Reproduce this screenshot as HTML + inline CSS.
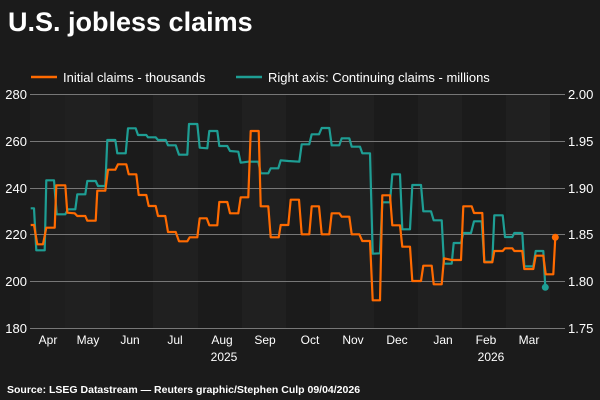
<!DOCTYPE html><html><head><style>
body{margin:0;background:#1b1b1b;}
svg{display:block;font-family:"Liberation Sans",sans-serif;}
</style></head><body>
<svg width="600" height="400" viewBox="0 0 600 400">
<rect width="600" height="400" fill="#1b1b1b"/>
<text x="8" y="31" fill="#fff" font-size="27" font-weight="bold">U.S. jobless claims</text>
<line x1="31" y1="77" x2="57" y2="77" stroke="#ff6a00" stroke-width="2.5"/>
<text x="63" y="82" fill="#fff" font-size="13">Initial claims - thousands</text>
<line x1="236" y1="77" x2="262" y2="77" stroke="#1e9e94" stroke-width="2.5"/>
<text x="268" y="82" fill="#fff" font-size="13">Right axis: Continuing claims - millions</text>
<g fill="#202020">
<rect x="30" y="94" width="35" height="234" fill="#1e1e1e"/>
<rect x="65" y="94" width="45" height="234"/>
<rect x="153" y="94" width="45" height="234"/>
<rect x="242" y="94" width="44" height="234"/>
<rect x="330" y="94" width="44" height="234"/>
<rect x="418" y="94" width="44" height="234"/>
<rect x="506" y="94" width="44" height="234"/>
</g>
<g stroke="#777" stroke-width="1">
<line x1="30" y1="94.5" x2="565" y2="94.5"/><line x1="30" y1="141.5" x2="565" y2="141.5"/>
<line x1="30" y1="188.5" x2="565" y2="188.5"/><line x1="30" y1="234.5" x2="565" y2="234.5"/>
<line x1="30" y1="281.5" x2="565" y2="281.5"/><line x1="30" y1="328.5" x2="565" y2="328.5"/>
</g>
<g fill="#fff" font-size="13" text-anchor="end">
<text x="27" y="99">280</text><text x="27" y="146">260</text><text x="27" y="193">240</text>
<text x="27" y="239">220</text><text x="27" y="286">200</text><text x="27" y="333">180</text>
</g>
<g fill="#fff" font-size="13">
<text x="568" y="99">2.00</text><text x="568" y="146">1.95</text><text x="568" y="193">1.90</text>
<text x="568" y="239">1.85</text><text x="568" y="286">1.80</text><text x="568" y="333">1.75</text>
</g>
<g fill="#fff" font-size="12" text-anchor="middle">
<text x="48" y="344">Apr</text><text x="88" y="344">May</text><text x="130" y="344">Jun</text>
<text x="175" y="344">Jul</text><text x="222" y="344">Aug</text><text x="265" y="344">Sep</text>
<text x="310" y="344">Oct</text><text x="353" y="344">Nov</text><text x="397" y="344">Dec</text>
<text x="443" y="344">Jan</text><text x="486" y="344">Feb</text><text x="529" y="344">Mar</text>
<text x="224" y="361">2025</text><text x="491" y="361">2026</text>
</g>
<polyline fill="none" stroke="#1e9e94" stroke-width="2.2" stroke-linejoin="round" points="30.7,208.3 34,208.3 36.3,250.3 44.7,250.3 46.3,180.3 54,180.3 56.7,214.3 65.3,214.3 68,209.3 75.3,209.3 77.3,194.3 85.3,194.3 87.3,181 95.7,181 98,186 105.3,186 107.3,140 115.3,140 117.3,153.3 125.7,153.3 128,128.3 135.7,128.3 138,135 146.3,135 148,137.3 155.7,137.3 158,140 165.7,140 168,145.3 175.7,145.3 179,154.7 187.3,154.7 189,124 197.3,124 199.7,147.7 207.3,148.3 209.3,131 217.3,131 219.3,146 227.3,146 230,151 238.3,151.7 240.7,162.7 248.3,161.7 258.3,161.7 260.7,173.3 268.3,173.3 270.7,168.3 278.3,168.3 280.7,160.3 288.3,161 299.3,161.7 301.7,144.3 309.3,144.3 311.7,134.3 319,134.3 321.7,128 329.3,128 331.7,145.3 339.3,145.3 341.7,138.3 349.3,138.3 351.7,146.7 360,146.7 362.3,153.3 370,153.3 372.7,253.7 380,253.3 382.3,202.3 390,202.3 392.3,174.3 400,174.3 402.3,229.3 410,229.3 412.3,185 421,185 423.3,211.3 431,211.3 433.7,220.3 441.7,220.3 444,263.7 451.7,263.7 453.7,243 461,243 463.3,233 471,233 474,221.3 481.7,221.3 484.3,261.7 492.3,261.7 494.3,215.3 502.7,215.3 505,237 512.3,237 514.3,233 522.3,233 524.3,266.3 533.3,266.3 535.7,251 543.3,251 545.3,287.3"/>
<circle cx="545.3" cy="287.3" r="3.5" fill="#1e9e94"/>
<polyline fill="none" stroke="#ff6a00" stroke-width="2.2" stroke-linejoin="round" points="30.7,225 34,225 37.3,244.3 43,244.3 46.3,227.7 54.7,227.7 56.3,185.3 65.3,185.3 67.3,212.7 74.7,213.3 77.3,216 85.3,216 87.3,220.7 95.7,220.7 97.3,190.7 105.3,190.7 108,169.7 115.3,169.7 118,164.3 126.3,164.3 128.7,174.3 136.3,174.3 138.7,195 146.3,195 148.7,206 155.7,206 158,216 165.3,216 168,232 175.7,232 179,241.3 187.3,241.3 189.7,237.3 197.3,237.3 199.7,218.3 206.7,218.3 209.3,225.3 217.3,225.3 219.3,202 227.3,202 230,213.3 238.3,213.3 240.7,197.3 248.3,197.3 250.7,131 258.7,131 260.7,206.3 268.3,206.3 270.7,237.3 278.7,237.3 280.7,225 288.3,225 290.7,199.7 299,199.7 301.7,234.3 309.3,234.3 311.7,206.3 319,206.3 321.7,234.3 329.3,234.3 331.7,213.3 339.3,213.3 341.7,216.7 349.3,216.7 351.7,234.3 359.3,234.3 362.3,241 370,241 372.7,300.3 380,300.3 382.3,195.3 390,195.3 392.3,225.3 400,225.3 402.3,246.7 410,246.7 412.3,281 421,281 423.3,265.7 431.7,265.7 433.7,284.3 441.7,284.3 444,258.3 451.7,260 461,260 463.3,206.3 471.7,206.3 474,213 482.3,213 484.3,262.3 492.3,262.3 494.3,251 502.7,251 505,248.3 512.3,248.3 514.3,251 522.3,251 524.3,269 533.3,269 535.7,255.7 543.3,255.7 545.7,274.3 553.3,274.3 555.3,237.3"/>
<circle cx="555.3" cy="237.3" r="3.5" fill="#ff6a00"/>
<text x="7" y="393" fill="#fff" font-size="10.5" font-weight="bold">Source: LSEG Datastream — Reuters graphic/Stephen Culp 09/04/2026</text>
</svg>
</body></html>
